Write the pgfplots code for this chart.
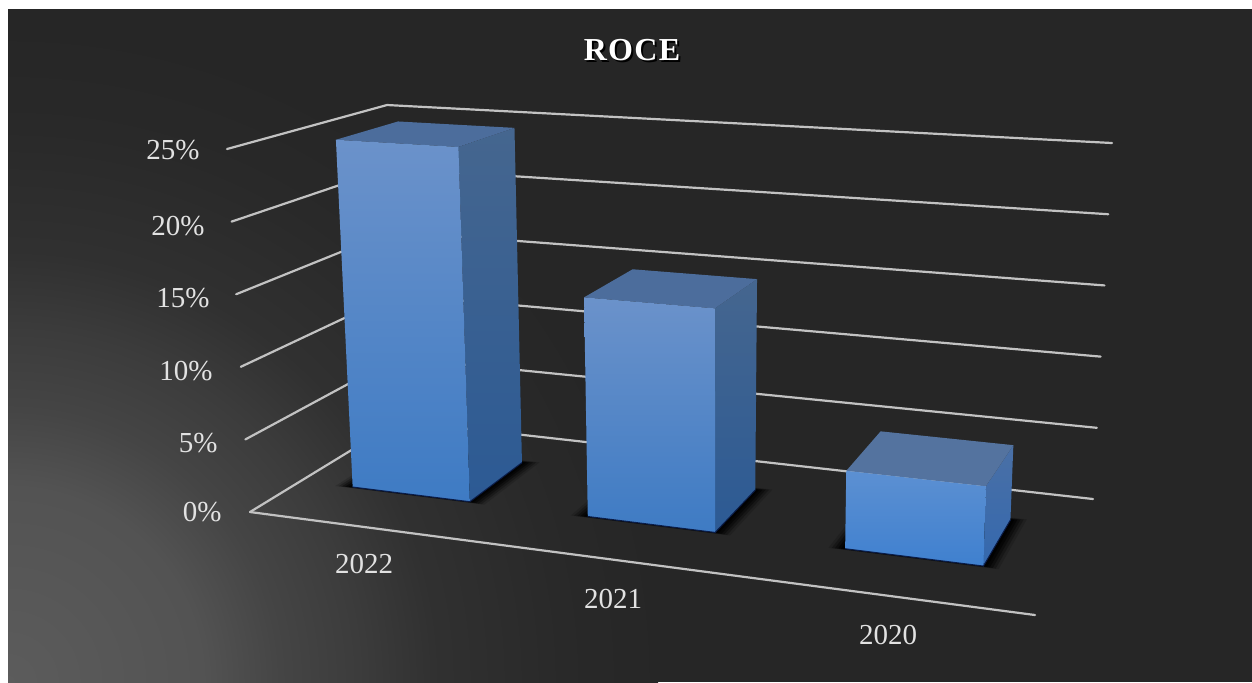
\documentclass[border=0pt]{standalone}
\usepackage{pgfplots}
\pgfplotsset{compat=1.18}
\usepackage{fontspec}
\setmainfont{Liberation Serif}

% Backdrop glow centred on the lower left corner
\pgfdeclareradialshading{backdrop}{\pgfpoint{0bp}{0bp}}{%
  rgb(0bp)=(0.36,0.36,0.36);
  rgb(15bp)=(0.325,0.325,0.325);
  rgb(21bp)=(0.27,0.27,0.27);
  rgb(27bp)=(0.235,0.235,0.235);
  rgb(33bp)=(0.19,0.19,0.19);
  rgb(43bp)=(0.16,0.16,0.16);
  rgb(50bp)=(0.15,0.15,0.15)}

\definecolor{gridgrey}{HTML}{C2C2C2}
\definecolor{labelgrey}{HTML}{E2E2E2}
\definecolor{panel}{rgb}{0.15,0.15,0.15}

% Chart box corners in drawing coordinates: u along the years, d into the depth, v up (1 = 25%)
\pgfmathdeclarefunction{wallx}{3}{%
  \pgfmathparse{(1-#3)*((1-#1)*(1-#2)*250+#1*(1-#2)*1035+(1-#1)*#2*399+#1*#2*1093)
               +#3*((1-#1)*(1-#2)*227+#1*(1-#2)*1048+(1-#1)*#2*387+#1*#2*1112)}}
\pgfmathdeclarefunction{wally}{3}{%
  \pgfmathparse{(1-#3)*((1-#1)*(1-#2)*512+#1*(1-#2)*615+(1-#1)*#2*421+#1*#2*499)
               +#3*((1-#1)*(1-#2)*149+#1*(1-#2)*199+(1-#1)*#2*105+#1*#2*143)}}

\pgfplotsset{
  box table/.style={
    /pgfplots/table/x expr={wallx(\thisrow{u},\thisrow{d},\thisrow{v}/25)},
    /pgfplots/table/y expr={wally(\thisrow{u},\thisrow{d},\thisrow{v}/25)},
    /pgfplots/table/row sep=\\},
  gridline/.style={draw=gridgrey,line width=1.1pt,line cap=round,line join=round,no markers}
}

% One percentage level: left wall and back wall
\newcommand{\gridlevel}[1]{%
  \addplot[gridline] table[/pgfplots/box table]{u d v\\ 0 0 #1\\ 0 1 #1\\ 1 1 #1\\};}

% One layer of a contact shadow: #1 #2 span in u, #3 growth, #4 opacity
\newcommand{\shadowlayer}[4]{%
  \addplot[draw=none,fill=black,fill opacity=#4,no markers] table[
    x expr={wallx(\thisrow{u}+\thisrow{a}*#3,\thisrow{d}+\thisrow{b}*#3,0)},
    y expr={wally(\thisrow{u}+\thisrow{a}*#3,\thisrow{d}+\thisrow{b}*#3,0)},
    row sep=\\]{u d a b\\
      #1 .345 -1 -.5\\ #2 .345 1 -.5\\ #2 .75 1 1\\ #1 .75 -1 1\\ #1 .345 -1 -.5\\};}
\newcommand{\barshadow}[2]{%
  \shadowlayer{#1}{#2}{.021}{.15}
  \shadowlayer{#1}{#2}{.017}{.25}
  \shadowlayer{#1}{#2}{.013}{.35}
  \shadowlayer{#1}{#2}{.009}{.5}
  \shadowlayer{#1}{#2}{.005}{.7}}

% A bar: #1 #2 span in u, #3 value in percent, #4..#9 face colours
\newcommand{\drawbar}[9]{%
  \addplot[draw=none,no markers,shade,top color=#4,bottom color=#5] table[/pgfplots/box table]{u d v\\
      #2 .345 0\\ #2 .75 0\\ #2 .75 #3\\ #2 .345 #3\\ #2 .345 0\\};
  \addplot[draw=none,no markers,fill=#6] table[/pgfplots/box table]{u d v\\
      #1 .345 #3\\ #2 .345 #3\\ #2 .75 #3\\ #1 .75 #3\\ #1 .345 #3\\};
  \addplot[draw=none,no markers,shade,top color=#7,bottom color=#8] table[/pgfplots/box table]{u d v\\
      #1 .345 0\\ #2 .345 0\\ #2 .345 #3\\ #1 .345 #3\\ #1 .345 0\\};
  \addplot[draw=#9,line width=.5pt,no markers] table[/pgfplots/box table]{u d v\\
      #1 .345 0\\ #2 .345 0\\ #2 .75 0\\};}

\definecolor{sidetopA}{HTML}{45668F}
\definecolor{sidebotA}{HTML}{2C5A94}
\definecolor{capA}{HTML}{4C6D9C}
\definecolor{fronttopA}{HTML}{6B92CA}
\definecolor{frontbotA}{HTML}{3E7BC4}
\definecolor{sidetopB}{HTML}{4A70A6}
\definecolor{sidebotB}{HTML}{3468AE}
\definecolor{capB}{HTML}{54739F}
\definecolor{fronttopB}{HTML}{5C90D2}
\definecolor{frontbotB}{HTML}{3F80CF}
\definecolor{footline}{HTML}{0A1C48}

\begin{document}
\begin{tikzpicture}[x=0.5pt,y=-0.5pt]
  \fill[white] (0,0) rectangle (1252,682);
  \fill[panel] (8,9) rectangle (1252,682);
  \begin{scope}
    \clip (8,9) rectangle (1252,682);
    \begin{pgfscope}
      \pgftransformshift{\pgfpoint{4pt}{-341pt}}
      \pgftransformscale{6.476}
      \pgflowlevelsynccm
      \pgfuseshading{backdrop}
    \end{pgfscope}
  \end{scope}
  \begin{axis}[
    at={(0,0)},anchor=north west,
    scale only axis,width=626pt,height=341pt,
    xmin=0,xmax=1252,ymin=0,ymax=682,y dir=reverse,
    axis lines=none,clip=false]

    \gridlevel{25}
    \gridlevel{20}
    \gridlevel{15}
    \gridlevel{10}
    \gridlevel{5}
    \gridlevel{0}
    \addplot[gridline] table[/pgfplots/box table]{u d v\\ 0 0 0\\ 1 0 0\\};

    \barshadow{.068}{.2235}
    \barshadow{.38}{.549}
    \barshadow{.7215}{.905}

    \drawbar{.068}{.2235}{24.8}{sidetopA}{sidebotA}{capA}{fronttopA}{frontbotA}{footline}
    \drawbar{.38}{.549}{15.0}{sidetopA}{sidebotA}{capA}{fronttopA}{frontbotA}{footline}
    \drawbar{.7215}{.905}{5.1}{sidetopB}{sidebotB}{capB}{fronttopB}{frontbotB}{footline}
  \end{axis}

  \begin{scope}[every node/.style={text=labelgrey,inner sep=0pt,font=\fontsize{14.5}{16}\selectfont}]
    \node[anchor=east] at (200,150) {25\%};
    \node[anchor=east] at (205,226) {20\%};
    \node[anchor=east] at (210,298) {15\%};
    \node[anchor=east] at (213,371) {10\%};
    \node[anchor=east] at (218,443) {5\%};
    \node[anchor=east] at (222,512) {0\%};
    \node at (364,564) {2022};
    \node at (613,599) {2021};
    \node at (888,635) {2020};
    \node[text=black,font=\fontsize{16}{18}\selectfont\bfseries\addfontfeatures{LetterSpace=4}] at (634,52.5) {ROCE};
    \node[text=white,font=\fontsize{16}{18}\selectfont\bfseries\addfontfeatures{LetterSpace=4}] at (632,50) {ROCE};
  \end{scope}
\end{tikzpicture}
\end{document}
